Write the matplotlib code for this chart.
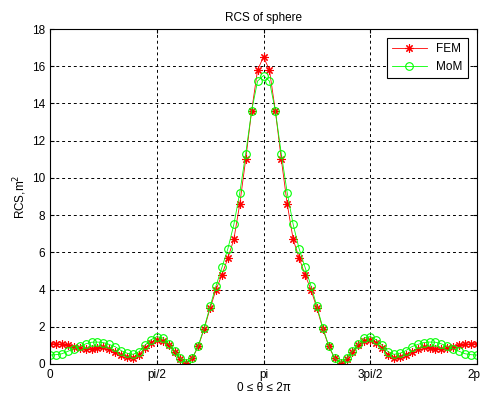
import numpy as np
import matplotlib
matplotlib.use("Agg")
import matplotlib.pyplot as plt
from matplotlib.transforms import ScaledTranslation

plt.rcParams['font.family'] = ['Liberation Sans', 'DejaVu Sans']

# angle grid in degrees (5 deg steps)
theta_deg = np.arange(0, 365, 5)

# FEM result
rcs_fem = [1.10, 1.08, 1.05, 1.00, 0.92, 0.85, 0.83, 0.83, 0.87, 0.90,
           0.80, 0.65, 0.50, 0.40, 0.34, 0.50, 0.85, 1.15, 1.30, 1.25,
           1.00, 0.65, 0.28, 0.05, 0.30, 0.95, 1.90, 3.00, 4.00, 4.80,
           5.70, 6.70, 8.60, 11.00, 13.60, 15.80, 16.50,
           15.80, 13.60, 11.00, 8.60, 6.70, 5.70, 4.80, 4.00, 3.00,
           1.90, 0.95, 0.30, 0.05, 0.28, 0.65, 1.00, 1.25, 1.30, 1.15,
           0.85, 0.50, 0.34, 0.40, 0.50, 0.65, 0.80, 0.90, 0.87, 0.83,
           0.83, 0.85, 0.92, 1.00, 1.05, 1.08, 1.10]

# MoM result
rcs_mom = [0.48, 0.50, 0.55, 0.68, 0.82, 0.95, 1.08, 1.17, 1.18, 1.15,
           1.05, 0.93, 0.72, 0.58, 0.52, 0.66, 1.00, 1.30, 1.47, 1.40,
           1.10, 0.70, 0.30, 0.08, 0.32, 0.98, 1.95, 3.10, 4.20, 5.20,
           6.20, 7.50, 9.20, 11.30, 13.60, 15.20, 15.50,
           15.20, 13.60, 11.30, 9.20, 7.50, 6.20, 5.20, 4.20, 3.10,
           1.95, 0.98, 0.32, 0.08, 0.30, 0.70, 1.10, 1.40, 1.47, 1.30,
           1.00, 0.66, 0.52, 0.58, 0.72, 0.93, 1.05, 1.15, 1.18, 1.17,
           1.08, 0.95, 0.82, 0.68, 0.55, 0.50, 0.48]

# last label shows as "2p" in the reference (cut by the picture edge)
xtick_labels = ['0', 'pi/2', 'pi', '3pi/2', '2p']

theta = np.deg2rad(theta_deg)

fig = plt.figure(figsize=(4.83, 3.99), dpi=100)
ax = fig.add_axes([50 / 483, 1 - 364 / 399, 427 / 483, 335 / 399])

# matlab style asterisk = plus + cross
ax.plot(theta, rcs_fem, color='red', marker=(8, 2, 0), markersize=6,
        markeredgewidth=0.8, linewidth=0.6, label='FEM')
ax.plot(theta, rcs_mom, color=(0, 1, 0), marker='o', markersize=5.5,
        markerfacecolor='none', markeredgewidth=0.8, linewidth=0.6,
        label='MoM')

ax.set_xlim(0, 2 * np.pi)
ax.set_ylim(0, 18)
ax.set_xticks(np.arange(5) * np.pi / 2)
ax.set_xticklabels(xtick_labels)
ax.set_yticks(np.arange(0, 19, 2))
ax.tick_params(direction='in', labelsize=8.5, top=True, right=True, length=3)
ax.grid(True, color='black', linestyle=(0, (3, 3)), linewidth=0.7)

# nudge the last tick label a bit left so it stays inside the picture
lbl = ax.get_xticklabels()[-1]
lbl.set_transform(lbl.get_transform() + ScaledTranslation(-3 / 100, 0, fig.dpi_scale_trans))

ax.set_title('RCS of sphere', fontsize=8.5)
ax.set_xlabel('0 \u2264 \u03b8 \u2264 2\u03c0', fontsize=8.5, labelpad=1)
ax.set_ylabel(r'RCS,m$^2$', fontsize=8.5, labelpad=2)

leg = ax.legend(loc='upper right', fontsize=8.5, fancybox=False, framealpha=1,
                edgecolor='black', borderaxespad=0.8, handlelength=3)
leg.get_frame().set_linewidth(0.8)

fig.savefig('out.png', dpi=100)
